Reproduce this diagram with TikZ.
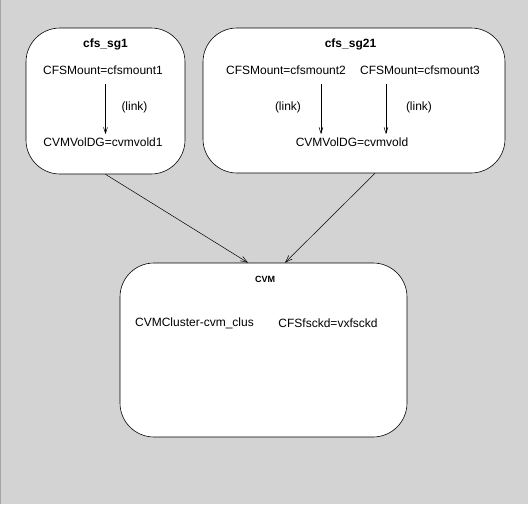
\documentclass[tikz,border=0pt]{standalone}
\usepackage{fontspec}
\setmainfont{Liberation Sans}
\usetikzlibrary{arrows.meta}
\definecolor{bggray}{HTML}{D3D3D3}
\begin{document}
\begin{tikzpicture}[x=1pt,y=-1pt,
	group/.style={draw, fill=white, rounded corners=34pt, line width=0.6pt, inner sep=0pt},
	res/.style={font=\fontsize{12}{14}\selectfont},
	title/.style={font=\bfseries\fontsize{12}{14}\selectfont},
	link/.style={-{Straight Barb[length=6pt,width=4pt]}, line width=0.5pt, shorten <=6pt},
	dep/.style={-{Straight Barb[length=7pt,width=5pt]}, line width=0.5pt}]
	\fill [bggray] (0,0) rectangle (528,504);
	\useasboundingbox (0,0) rectangle (528,504);
	\draw [gray!70, line width=1pt] (0.5,0) -- (0.5,504);
	% service groups
	\node (sg1) [group, minimum width=159pt, minimum height=146pt] at (105.5,101) {};
	\node (sg21) [group, minimum width=302pt, minimum height=145pt] at (354,100.5) {};
	\node (cvm) [group, minimum width=287pt, minimum height=174pt] at (263.5,350) {};
	\node (sg1t) [title] at (105.5,44) {cfs\_sg1};
	\node (sg21t) [title] at (350.5,44) {cfs\_sg21};
	\node (cvmt) [font=\bfseries\fontsize{9}{11}\selectfont] at (265,279) {CVM};
	% resources
	\node (m1) [res] at (103,70) {CFSMount=cfsmount1};
	\node (v1) [res] at (103,142) {CVMVolDG=cvmvold1};
	\node (m2) [res] at (286,70) {CFSMount=cfsmount2};
	\node (m3) [res] at (420,70) {CFSMount=cfsmount3};
	\node (vol) [res] at (352,142) {CVMVolDG=cvmvold};
	\node (c1) [res] at (194.5,323) {CVMCluster-cvm\_clus};
	\node (c2) [res] at (328,323) {CFSfsckd=vxfsckd};
	\node (l1) [res] at (134.5,107) {(link)};
	\node (l2) [res] at (288,107) {(link)};
	\node (l3) [res] at (419,107) {(link)};
	% links
	\draw [link] ([xshift=2.5pt]m1.south) -- ([xshift=2.5pt]v1.north);
	\draw [link] ([xshift=35pt]m2.south) -- ([xshift=-31pt]vol.north);
	\draw [link] ([xshift=-34pt]m3.south) -- ([xshift=34pt]vol.north);
	% group dependencies
	\draw [dep] (sg1.south) -- ([xshift=-15.5pt]cvm.north);
	\draw [dep] ([xshift=21pt]sg21.south) -- ([xshift=21.5pt]cvm.north);
\end{tikzpicture}
\end{document}
